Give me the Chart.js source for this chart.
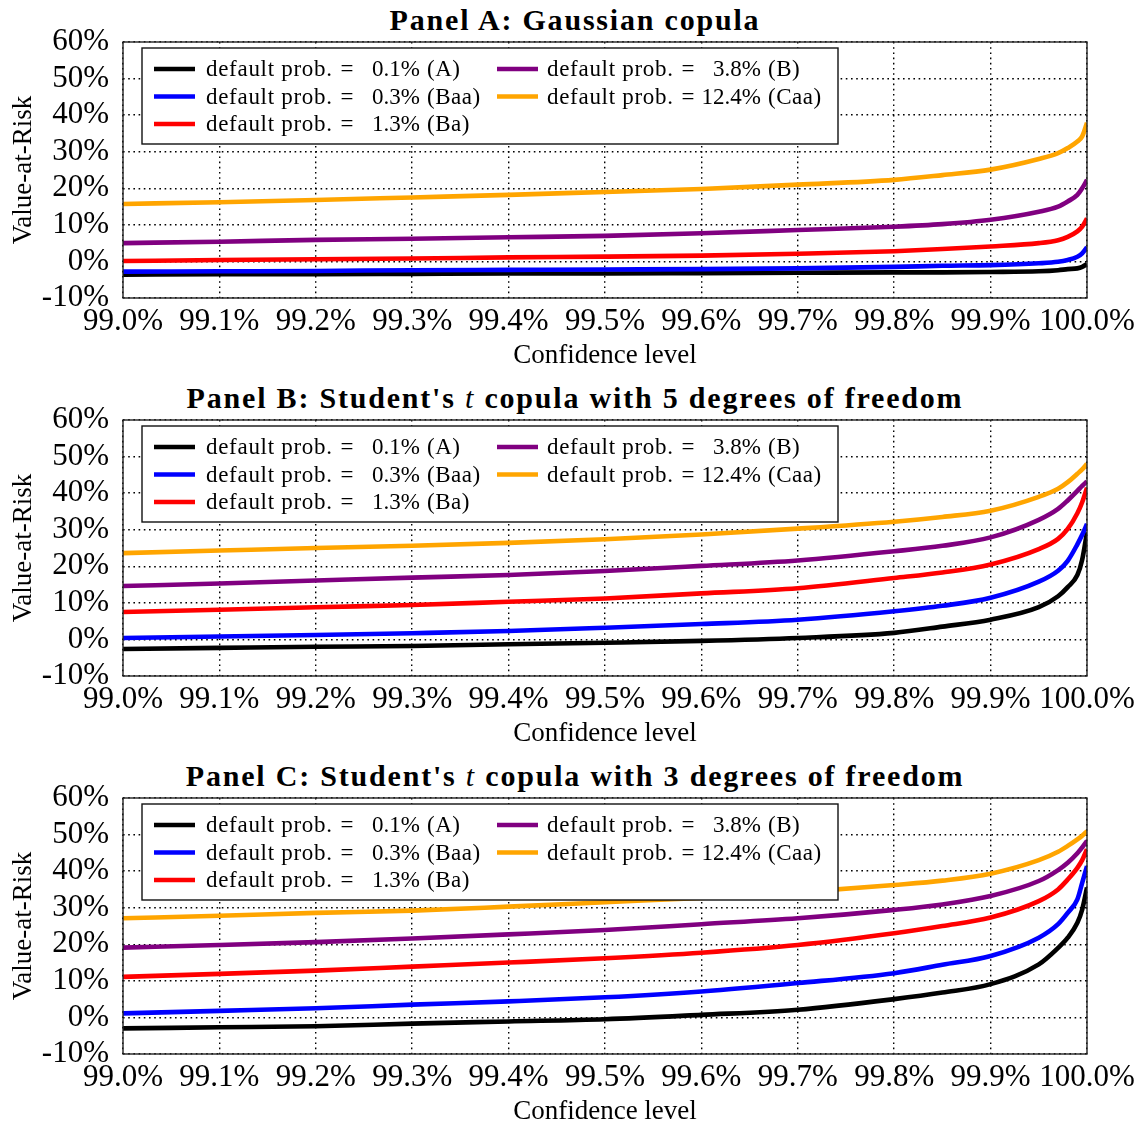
<!DOCTYPE html>
<html>
<head>
<meta charset="utf-8">
<script src="https://cdn.jsdelivr.net/npm/chart.js@4.4.1/dist/chart.umd.min.js"></script>
<style>
  html, body { margin: 0; padding: 0; background: #fff; overflow: hidden; width: 1141px; height: 1126px; }
  .panel { position: absolute; left: 0; width: 1141px; height: 378px; }
  .title { position: absolute; left: 0; width: 1150px; text-align: center; font-family: 'Liberation Serif', 'Times New Roman', serif;
           font-weight: bold; font-size: 30px; line-height: 31px; letter-spacing: 1.8px; color: #000; white-space: nowrap; }
  .title i { font-weight: normal; }
</style>
</head>
<body>
<div class="title" style="top:4px">Panel A: Gaussian copula</div>
<div class="title" style="top:382px">Panel B: Student's <i>t</i> copula with 5 degrees of freedom</div>
<div class="title" style="top:760px">Panel C: Student's <i>t</i> copula with 3 degrees of freedom</div>
<div class="panel" style="top:0px"><canvas id="cA" width="1141" height="378"></canvas></div>
<div class="panel" style="top:378px"><canvas id="cB" width="1141" height="378"></canvas></div>
<div class="panel" style="top:756px"><canvas id="cC" width="1141" height="378"></canvas></div>
<script>
// ---- data ----
const confidence = [99.0, 99.1, 99.2, 99.3, 99.4, 99.5, 99.6, 99.7, 99.8, 99.85, 99.9, 99.95, 99.97, 99.98, 99.99, 99.995, 100.0];
const xTicks = [99.0, 99.1, 99.2, 99.3, 99.4, 99.5, 99.6, 99.7, 99.8, 99.9, 100.0];
const yTicks = [-10, 0, 10, 20, 30, 40, 50, 60];
const defaultProbs = ['0.1%', '0.3%', '1.3%', '3.8%', '12.4%'];
const ratings = ['A', 'Baa', 'Ba', 'B', 'Caa'];
const colors = ['#000000', '#0000ff', '#ff0000', '#800080', '#ffa500'];

// Panel A: Gaussian copula
const gauss_A   = [-3.6,-3.5,-3.5,-3.4,-3.3,-3.3,-3.2,-3.1,-3.0,-3.0,-2.9,-2.7,-2.4,-2.1,-1.9,-1.5,-0.7];
const gauss_Baa = [-2.8,-2.7,-2.6,-2.4,-2.3,-2.2,-2.1,-1.9,-1.5,-1.2,-1.0,-0.5,-0.1,0.4,1.3,2.2,3.9];
const gauss_Ba  = [0.1,0.4,0.6,0.8,1.1,1.3,1.6,2.1,2.8,3.4,4.1,5.0,5.8,6.7,8.2,9.5,11.8];
const gauss_B   = [5.0,5.4,5.9,6.2,6.6,7.0,7.7,8.6,9.5,10.2,11.4,13.6,15.0,16.4,18.2,20.0,22.3];
const gauss_Caa = [15.7,16.2,16.8,17.5,18.2,19.0,19.8,21.0,22.3,23.6,25.1,28.0,29.6,31.0,32.8,34.2,37.9];

// Panel B: Student's t, 5 dof
const t5_A   = [-2.6,-2.3,-2.0,-1.8,-1.3,-0.9,-0.4,0.4,1.8,3.5,5.4,8.8,11.8,14.3,17.6,21.8,29.3];
const t5_Baa = [0.4,0.8,1.2,1.7,2.3,3.2,4.2,5.4,7.7,9.2,11.4,15.8,18.8,21.5,26.0,28.6,31.6];
const t5_Ba  = [7.5,8.1,8.8,9.4,10.3,11.2,12.6,14.0,16.8,18.3,20.5,24.7,27.5,30.2,34.5,37.5,41.5];
const t5_B   = [14.6,15.3,16.1,16.9,17.6,18.7,20.1,21.6,24.1,25.6,27.9,32.7,35.7,38.0,40.6,42.0,43.2];
const t5_Caa = [23.6,24.3,25.0,25.6,26.4,27.4,28.7,30.3,32.2,33.5,35.2,39.0,41.2,43.0,45.3,46.5,48.0];

// Panel C: Student's t, 3 dof
const t3_A   = [-3.0,-2.7,-2.4,-1.7,-1.1,-0.5,0.7,2.1,5.0,6.8,9.1,14.5,19.0,21.8,25.9,29.5,35.5];
const t3_Baa = [1.1,1.8,2.5,3.5,4.4,5.5,7.1,9.4,12.1,14.4,16.8,21.8,25.5,28.6,32.3,36.8,41.4];
const t3_Ba  = [11.1,11.9,12.8,13.9,15.0,16.2,17.7,19.8,23.0,25.0,27.3,31.8,35.0,37.7,40.9,43.0,46.0];
const t3_B   = [19.1,19.8,20.6,21.6,22.7,23.9,25.5,27.1,29.4,30.9,33.2,37.3,40.3,42.3,44.9,46.5,48.3];
const t3_Caa = [27.1,27.8,28.6,29.2,30.3,31.5,32.7,34.2,36.2,37.4,39.3,43.0,45.3,46.9,48.7,49.7,50.9];

const SERIF = "'Liberation Serif', 'Times New Roman', serif";

const frameAndLegend = {
  id: 'frameAndLegend',
  afterDatasetsDraw(chart) {
    const { ctx, chartArea: a } = chart;
    ctx.save();
    // plot frame
    ctx.strokeStyle = '#222';
    ctx.lineWidth = 1.4;
    ctx.strokeRect(a.left, a.top, a.right - a.left, a.bottom - a.top);
    // legend box
    const x0 = a.left + 19, y0 = a.top + 6, w = 696, h = 96;
    ctx.fillStyle = '#fff';
    ctx.fillRect(x0, y0, w, h);
    ctx.strokeStyle = '#111';
    ctx.lineWidth = 1.4;
    ctx.strokeRect(x0, y0, w, h);
    ctx.font = '23px ' + SERIF;
    ctx.textBaseline = 'middle';
    chart.data.datasets.forEach((ds, i) => {
      const col = i < 3 ? 0 : 1;
      const row = i < 3 ? i : i - 3;
      const sx = x0 + (col ? 355 : 12);
      const cy = y0 + 21 + row * 27.5;
      ctx.strokeStyle = ds.borderColor;
      ctx.lineWidth = 4.5;
      ctx.lineCap = 'butt';
      ctx.beginPath();
      ctx.moveTo(sx, cy);
      ctx.lineTo(sx + 41, cy);
      ctx.stroke();
      ctx.fillStyle = '#000';
      const tx = x0 + (col ? 405 : 64);
      try { ctx.letterSpacing = '0.7px'; } catch (e) {}
      ctx.textAlign = 'left';
      ctx.fillText('default prob.', tx, cy + 1);
      try { ctx.letterSpacing = '0px'; } catch (e) {}
      ctx.textAlign = 'center';
      ctx.fillText('=', tx + 141, cy + 1);
      ctx.textAlign = 'right';
      ctx.fillText(defaultProbs[i], tx + 214, cy + 1);
      try { ctx.letterSpacing = '0.5px'; } catch (e) {}
      ctx.textAlign = 'left';
      ctx.fillText('(' + ratings[i] + ')', tx + 221, cy + 1);
    });
    ctx.restore();
  }
};

function makeChart(id, series) {
  const datasets = series.map((vals, i) => ({
    label: 'default prob. = ' + defaultProbs[i] + ' (' + ratings[i] + ')',
    data: confidence.map((c, k) => ({ x: c, y: vals[k] })),
    borderColor: colors[i],
    backgroundColor: colors[i],
    borderWidth: 4.6,
    pointRadius: 0,
    cubicInterpolationMode: 'monotone',
    order: 5 - i
  }));
  return new Chart(document.getElementById(id), {
    type: 'line',
    data: { datasets },
    options: {
      responsive: false,
      maintainAspectRatio: false,
      animation: false,
      layout: { padding: { top: 42, right: 54, bottom: 0, left: 0 } },
      plugins: { legend: { display: false }, title: { display: false }, tooltip: { enabled: false } },
      scales: {
        x: {
          type: 'linear',
          min: 99.0,
          max: 100.0,
          afterBuildTicks: s => { s.ticks = xTicks.map(v => ({ value: v })); },
          afterFit: s => { s.height = 80; },
          ticks: {
            autoSkip: false, maxRotation: 0, padding: 5, color: '#000',
            font: { family: SERIF, size: 31 },
            callback: v => Number(v).toFixed(1) + '%'
          },
          grid: { color: '#000', lineWidth: 1.4, drawTicks: false },
          border: { display: false, dash: [1.6, 3.6] },
          title: { display: true, text: 'Confidence level', color: '#000',
                   font: { family: SERIF, size: 27 }, padding: { top: 0, bottom: 6 } }
        },
        y: {
          min: -10,
          max: 60,
          afterBuildTicks: s => { s.ticks = yTicks.map(v => ({ value: v })); },
          afterFit: s => { s.width = 123; },
          ticks: {
            autoSkip: false, padding: 14, color: '#000',
            font: { family: SERIF, size: 31 },
            callback: v => v + '%'
          },
          grid: { color: '#000', lineWidth: 1.4, drawTicks: false },
          border: { display: false, dash: [1.6, 3.6] },
          title: { display: true, text: 'Value-at-Risk', color: '#000',
                   font: { family: SERIF, size: 27 }, padding: { top: 8, bottom: 0 } }
        }
      }
    },
    plugins: [frameAndLegend]
  });
}

makeChart('cA', [gauss_A, gauss_Baa, gauss_Ba, gauss_B, gauss_Caa]);
makeChart('cB', [t5_A, t5_Baa, t5_Ba, t5_B, t5_Caa]);
makeChart('cC', [t3_A, t3_Baa, t3_Ba, t3_B, t3_Caa]);
</script>
</body>
</html>
